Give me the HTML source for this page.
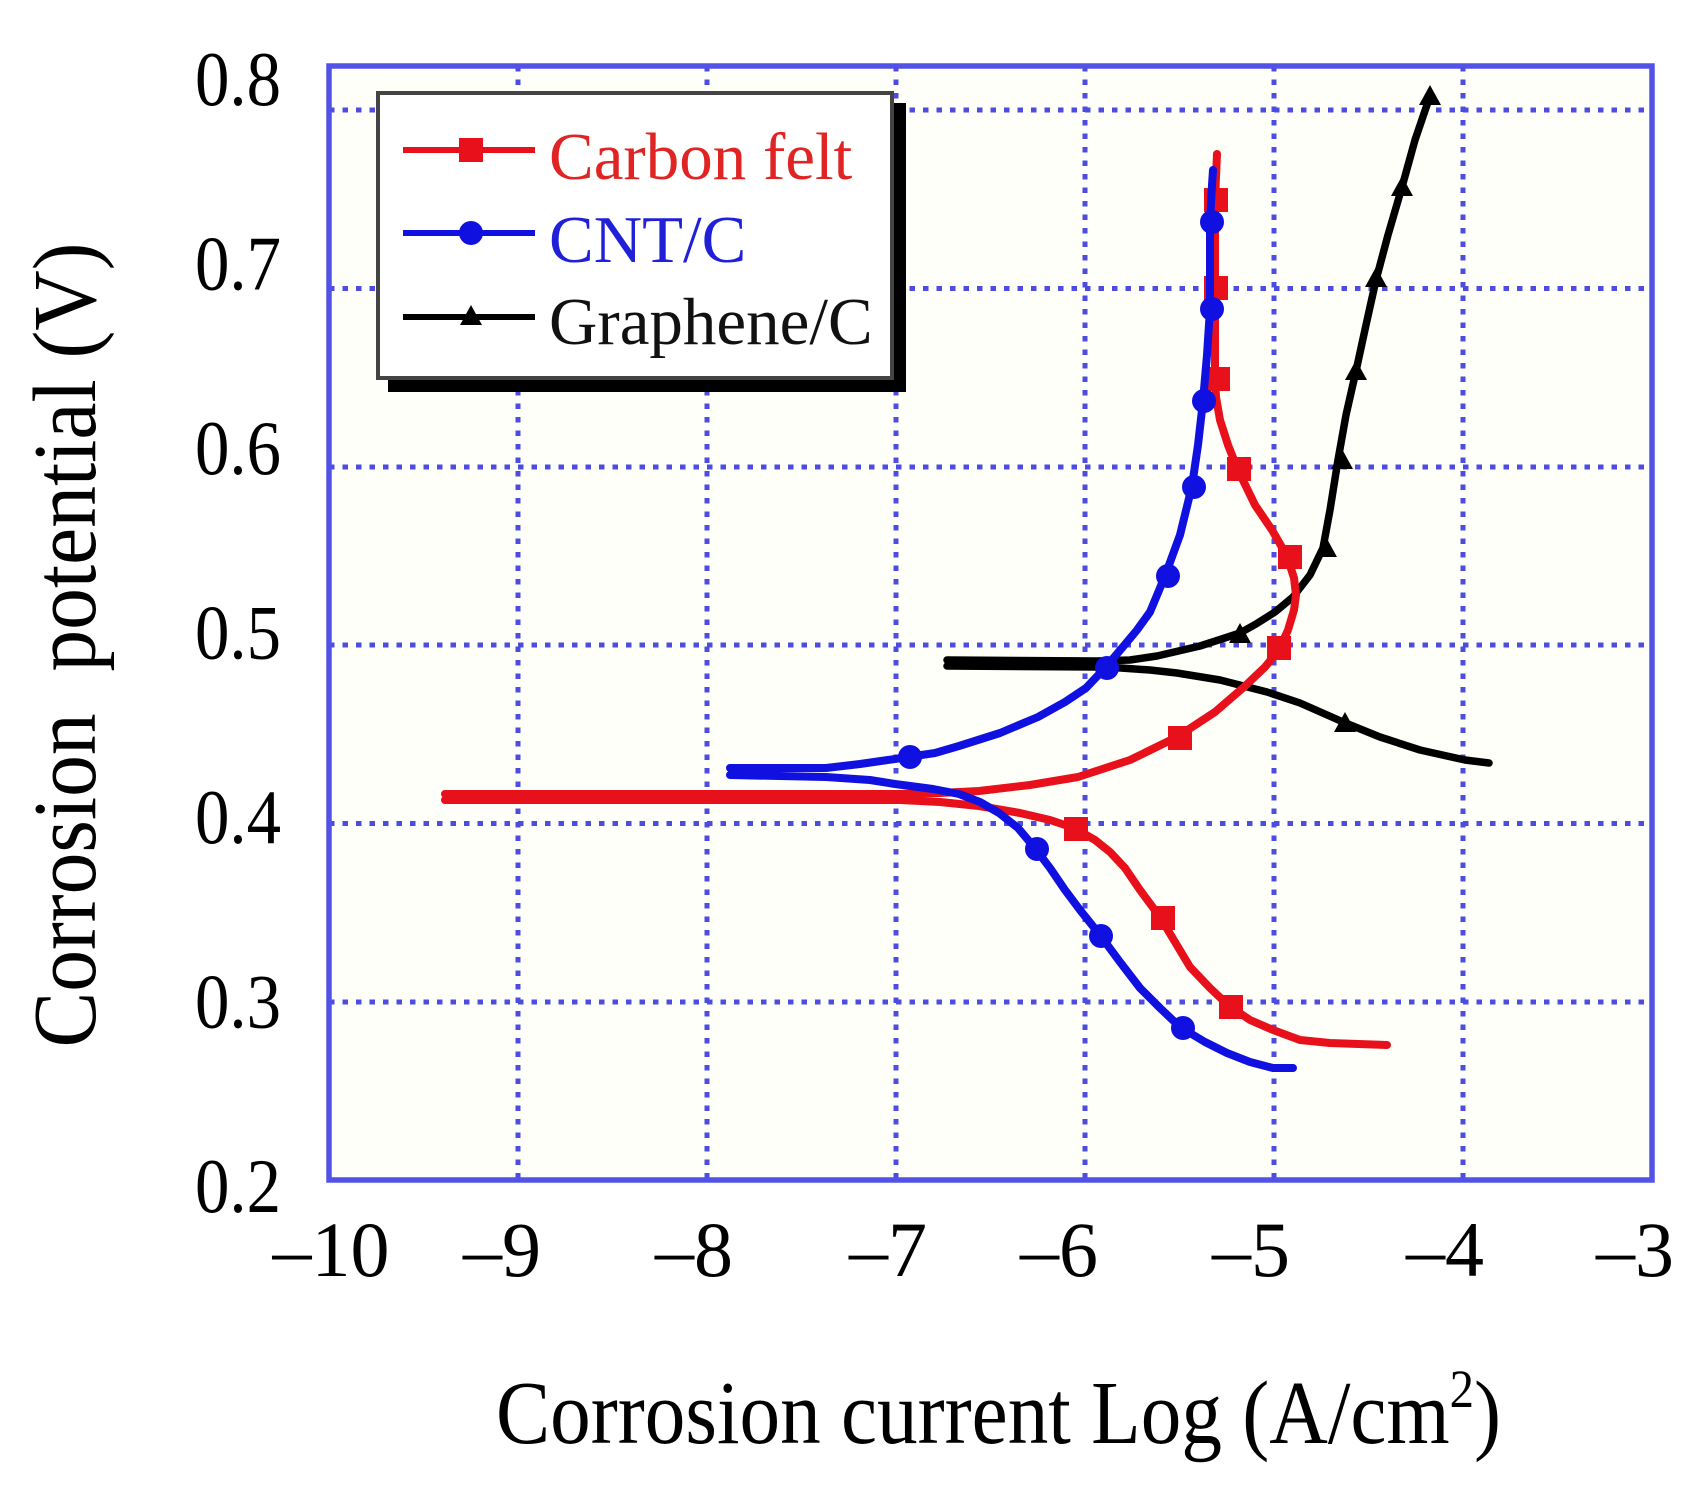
<!DOCTYPE html>
<html><head><meta charset="utf-8"><style>
html,body{margin:0;padding:0;background:#fff;}
svg{display:block;}
text{font-family:"Liberation Serif","DejaVu Serif",serif;}
</style></head><body>
<svg width="1700" height="1485" viewBox="0 0 1700 1485" xmlns="http://www.w3.org/2000/svg">
<rect x="0" y="0" width="1700" height="1485" fill="#ffffff"/>
<!-- plot area -->
<rect x="329" y="66" width="1323" height="1114" fill="#fffffa"/>
<!-- grid -->
<g stroke="#4c4ce0" stroke-width="5" stroke-dasharray="5.5 8" fill="none">
<line x1="518" y1="66" x2="518" y2="1180"/>
<line x1="707" y1="66" x2="707" y2="1180"/>
<line x1="896" y1="66" x2="896" y2="1180"/>
<line x1="1085" y1="66" x2="1085" y2="1180"/>
<line x1="1274" y1="66" x2="1274" y2="1180"/>
<line x1="1463" y1="66" x2="1463" y2="1180"/>
<line x1="329" y1="110" x2="1652" y2="110"/>
<line x1="329" y1="288.5" x2="1652" y2="288.5"/>
<line x1="329" y1="467" x2="1652" y2="467"/>
<line x1="329" y1="645" x2="1652" y2="645"/>
<line x1="329" y1="823.5" x2="1652" y2="823.5"/>
<line x1="329" y1="1002" x2="1652" y2="1002"/>
</g>
<rect x="329" y="66" width="1323" height="1114" fill="none" stroke="#5252e6" stroke-width="5.5"/>

<!-- Black Graphene/C -->
<g fill="none" stroke="#000" stroke-width="7.5" stroke-linejoin="round" stroke-linecap="round">
<polyline points="947,666 1097,667 1121,668 1150,670 1177,673 1220,680 1267,692 1300,703 1343,722 1380,737 1420,750 1465,760 1489,763"/>
<polyline points="947,660 1097,661 1130,660 1157,656 1200,646 1240,633 1256,624 1275,612 1293,597 1310,575 1323,548 1330,510 1338,460 1346,415 1356,371 1366,325 1376,280 1388,235 1402,187 1415,140 1430,96"/>
</g>
<g fill="#000">
<polygon points="1402,176 1413,196 1391,196"/>
<polygon points="1376,267 1387,287 1365,287"/>
<polygon points="1356,360 1367,380 1345,380"/>
<polygon points="1342,449 1353,469 1331,469"/>
<polygon points="1326,537 1337,557 1315,557"/>
<polygon points="1240,623 1251,643 1229,643"/>
<polygon points="1345,712 1356,732 1334,732"/>
<polygon points="1430,85 1441,105 1419,105"/>
</g>

<!-- Red Carbon felt -->
<g fill="none" stroke="#e8101a" stroke-width="8" stroke-linejoin="round" stroke-linecap="round">
<polyline points="445,800 900,800 940,802 979,806 1020,813 1050,820 1074,828 1095,840 1110,852 1125,868 1140,890 1160,917 1175,942 1190,967 1210,988 1228,1005 1250,1020 1273,1030 1300,1040 1330,1043 1387,1045"/>
<polyline points="445,794 900,794 940,793 979,791 1030,785 1078,777 1130,760 1177,737 1215,712 1244,687 1265,667 1279,650 1288,630 1294,610 1296,595 1294,578 1287,556 1272,530 1255,505 1238,470 1228,445 1220,420 1216,397 1215,378 1215,290 1215,200 1217,154"/>
</g>
<g fill="#e8101a">
<rect x="1204" y="188" width="24" height="24"/>
<rect x="1204" y="276" width="24" height="24"/>
<rect x="1206" y="367" width="24" height="24"/>
<rect x="1227" y="457" width="24" height="24"/>
<rect x="1278" y="545" width="24" height="24"/>
<rect x="1267" y="636" width="24" height="24"/>
<rect x="1168" y="726" width="24" height="24"/>
<rect x="1064" y="817" width="24" height="24"/>
<rect x="1151" y="906" width="24" height="24"/>
<rect x="1219" y="995" width="24" height="24"/>
</g>

<!-- Blue CNT/C -->
<g fill="none" stroke="#1010e0" stroke-width="8" stroke-linejoin="round" stroke-linecap="round">
<polyline points="730,775 826,777 870,780 895,784 933,789 959,794 980,802 999,813 1018,828 1034,847 1050,868 1065,890 1080,910 1100,935 1120,962 1140,988 1160,1008 1180,1027 1205,1042 1227,1053 1250,1062 1273,1068 1293,1068"/>
<polyline points="730,768 826,768 860,764 895,759 908,757 935,753 959,746 1000,733 1038,717 1065,702 1086,688 1105,668 1122,648 1137,630 1150,612 1165,576 1180,535 1192,486 1198,445 1203,401 1207,355 1210,309 1210,221 1212,185 1213,170"/>
</g>
<g fill="#1010e0">
<circle cx="910" cy="757" r="12"/>
<circle cx="1107" cy="668" r="12"/>
<circle cx="1168" cy="576" r="12"/>
<circle cx="1194" cy="487" r="12"/>
<circle cx="1204" cy="401" r="12"/>
<circle cx="1212" cy="309" r="12"/>
<circle cx="1212" cy="222" r="12"/>
<circle cx="1037" cy="849" r="12"/>
<circle cx="1101" cy="936" r="12"/>
<circle cx="1183" cy="1028" r="12"/>
</g>

<!-- Legend -->
<rect x="388" y="103" width="518" height="289" fill="#000"/>
<rect x="378" y="93" width="514" height="285" fill="#ffffff" stroke="#444" stroke-width="4"/>
<g stroke-width="6">
<line x1="403" y1="150" x2="535" y2="150" stroke="#e8101a"/>
<line x1="403" y1="233" x2="535" y2="233" stroke="#1010e0"/>
<line x1="403" y1="317" x2="535" y2="317" stroke="#000"/>
</g>
<rect x="459" y="138" width="24" height="24" fill="#e8101a"/>
<circle cx="471" cy="233" r="12" fill="#1010e0"/>
<polygon points="471,305 482,325 460,325" fill="#000"/>
<text x="549" y="179" font-size="67" fill="#e02424">Carbon felt</text>
<text x="549" y="262" font-size="67" fill="#2020d8">CNT/C</text>
<text x="549" y="344" font-size="67" fill="#111">Graphene/C</text>

<!-- Y tick labels -->
<g font-size="77" fill="#000" text-anchor="end">
<text x="281" y="105" textLength="86" lengthAdjust="spacingAndGlyphs">0.8</text>
<text x="281" y="289.5" textLength="86" lengthAdjust="spacingAndGlyphs">0.7</text>
<text x="281" y="474" textLength="86" lengthAdjust="spacingAndGlyphs">0.6</text>
<text x="281" y="658.5" textLength="86" lengthAdjust="spacingAndGlyphs">0.5</text>
<text x="281" y="843" textLength="86" lengthAdjust="spacingAndGlyphs">0.4</text>
<text x="281" y="1027.5" textLength="86" lengthAdjust="spacingAndGlyphs">0.3</text>
<text x="281" y="1212" textLength="86" lengthAdjust="spacingAndGlyphs">0.2</text>
</g>
<!-- X tick labels -->
<g font-size="78" fill="#000" text-anchor="middle">
<text x="331" y="1276">–10</text>
<text x="502" y="1276">–9</text>
<text x="694" y="1276">–8</text>
<text x="888" y="1276">–7</text>
<text x="1059" y="1276">–6</text>
<text x="1251" y="1276">–5</text>
<text x="1445" y="1276">–4</text>
<text x="1635" y="1276">–3</text>
</g>
<!-- Axis titles -->
<text x="496" y="1443" font-size="90" fill="#000" textLength="1005" lengthAdjust="spacingAndGlyphs">Corrosion current Log (A/cm<tspan font-size="54" dy="-36">2</tspan><tspan dy="36">)</tspan></text>
<text transform="translate(95,645) rotate(-90)" x="0" y="0" font-size="90" fill="#000" text-anchor="middle" textLength="805" lengthAdjust="spacingAndGlyphs">Corrosion&#160; potential (V)</text>
</svg>
</body></html>
